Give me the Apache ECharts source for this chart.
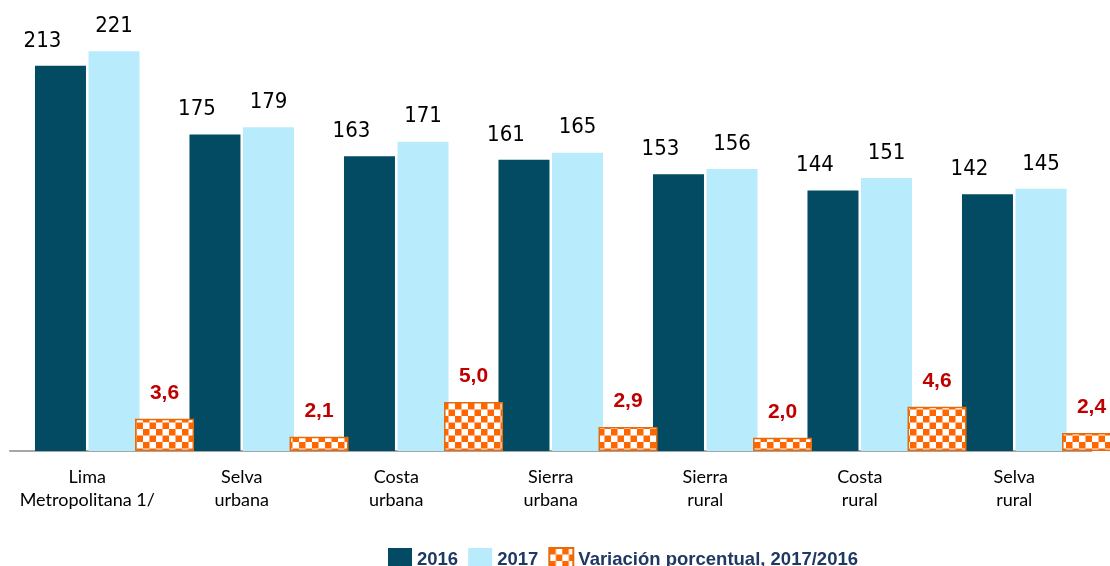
<!DOCTYPE html>
<html lang="es">
<head>
  <meta charset="UTF-8">
  <title>Gasto promedio por dominio</title>
  <style>
    html, body { margin: 0; padding: 0; background: #fff; }
  </style>
</head>
<body>
  <div id="main" style="width: 1110px; height: 566px;"></div>
  <script src="https://cdn.jsdelivr.net/npm/echarts@6/dist/echarts.min.js"></script>
  <script type="text/javascript">
    // datos
    var categories = ['Lima\nMetropolitana 1/', 'Selva\nurbana', 'Costa\nurbana', 'Sierra\nurbana', 'Sierra\nrural', 'Costa\nrural', 'Selva\nrural'];
    var values2016 = [213, 175, 163, 161, 153, 144, 142];
    var values2017 = [221, 179, 171, 165, 156, 151, 145];
    var variacion = [3.6, 2.1, 5.0, 2.9, 2.0, 4.6, 2.4];

    var narrowFont = '"Liberation Sans Narrow", "DejaVu Sans Condensed", sans-serif';

    // patrón de cuadros naranja para la variación
    function checkerPattern() {
      var c = document.createElement('canvas');
      var s = 6.5;
      c.width = s * 2;
      c.height = s * 2;
      var ctx = c.getContext('2d');
      ctx.fillStyle = '#ffffff';
      ctx.fillRect(0, 0, c.width, c.height);
      ctx.fillStyle = '#ff6600';
      ctx.fillRect(0, 0, s, s);
      ctx.fillRect(s, s, s, s);
      return c;
    }

    var myChart = echarts.init(document.getElementById('main'));

    option = {
      animation: false,
      legend: {
        data: ['2016', '2017', 'Variación porcentual, 2017/2016'],
        top: 542,
        left: 383,
        icon: 'rect',
        itemWidth: 24,
        itemHeight: 24,
        itemGap: 10,
        textStyle: {
          fontFamily: '"Liberation Sans", Arial, sans-serif',
          fontWeight: 'bold',
          fontSize: 18.5,
          color: '#1f3864',
          padding: [4, 0, 0, 0]
        }
      },
      grid: {
        left: 10,
        right: 18.5,
        top: 17,
        bottom: 115
      },
      xAxis: [{
        type: 'category',
        data: categories,
        axisLine: { lineStyle: { color: '#a6a6a6', width: 2 } },
        axisTick: { show: false },
        axisLabel: {
          interval: 0,
          margin: 15,
          fontFamily: 'Lato',
          fontSize: 18,
          lineHeight: 22.5,
          color: '#000'
        }
      }, {
        type: 'category',
        data: categories,
        show: false
      }],
      yAxis: [{
        type: 'value',
        min: 0,
        max: 240,
        show: false,
        splitLine: { show: false }
      }, {
        type: 'value',
        min: 0.9,
        max: 37.2,
        startValue: 0.9,
        show: false,
        splitLine: { show: false }
      }],
      series: [{
        name: '2016',
        type: 'bar',
        data: values2016,
        barWidth: 51,
        barGap: '5%',
        itemStyle: { color: '#024b63' },
        label: {
          show: true,
          position: 'top',
          distance: 14,
          offset: [-18, 0],
          fontFamily: narrowFont,
          fontSize: 22,
          color: '#000'
        }
      }, {
        name: '2017',
        type: 'bar',
        data: values2017,
        barWidth: 51,
        barGap: '5%',
        itemStyle: { color: '#b8ebfc' },
        label: {
          show: true,
          position: 'top',
          distance: 14,
          fontFamily: narrowFont,
          fontSize: 22,
          color: '#000'
        }
      }, {
        // serie vacía para desplazar la barra de variación medio tramo a la derecha
        name: 'hueco',
        type: 'bar',
        xAxisIndex: 1,
        yAxisIndex: 1,
        data: [],
        barWidth: 59,
        barGap: '162%'
      }, {
        name: 'Variación porcentual, 2017/2016',
        type: 'bar',
        xAxisIndex: 1,
        yAxisIndex: 1,
        data: variacion,
        barWidth: 59,
        barGap: '162%',
        clip: false,
        itemStyle: {
          color: { image: checkerPattern(), repeat: 'repeat' },
          borderColor: '#e46c0a',
          borderWidth: 1.5
        },
        label: {
          show: true,
          position: 'top',
          distance: 15,
          fontFamily: '"Liberation Sans", Arial, sans-serif',
          fontWeight: 'bold',
          fontSize: 21,
          color: '#c00000',
          formatter: function (p) {
            return p.value.toFixed(1).replace('.', ',');
          }
        }
      }]
    };
    myChart.setOption(option);
  </script>
</body>
</html>
